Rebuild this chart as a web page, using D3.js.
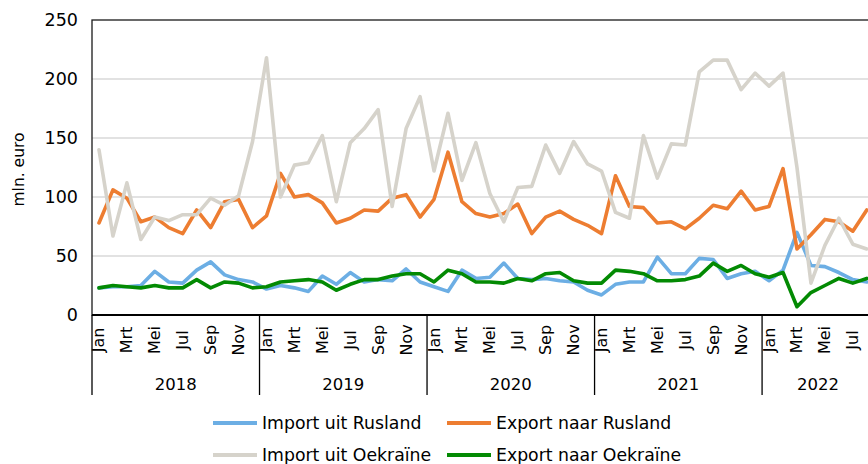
<!DOCTYPE html>
<html>
<head>
<meta charset="utf-8">
<script src="https://cdn.jsdelivr.net/npm/d3@7"></script>
<style>
  html, body { margin: 0; padding: 0; background: #fff; }
  svg { display: block; font-family: "DejaVu Sans", Verdana, sans-serif; }
</style>
</head>
<body>
<svg id="chart" width="868" height="464"></svg>
<script>
// Monthly trade with Russia and Ukraine, Jan 2018 – Aug 2022 (mln. euro)
const years = ["2018", "2019", "2020", "2021", "2022"];
const monthsPerYear = [12, 12, 12, 12, 8];
const monthNames = ["Jan", "Feb", "Mrt", "Apr", "Mei", "Jun", "Jul", "Aug", "Sep", "Okt", "Nov", "Dec"];
const yTicks = [0, 50, 100, 150, 200, 250];

const importRusland = [
  23, 24, 24, 25, 37, 28, 27, 38, 45, 34, 30, 28,
  22, 25, 23, 20, 33, 26, 36, 28, 30, 29, 39, 28,
  24, 20, 38, 31, 32, 44, 31, 30, 31, 29, 28, 21,
  17, 26, 28, 28, 49, 35, 35, 48, 47, 31, 35, 37,
  29, 38, 70, 42, 41, 36, 30, 28
];
const exportRusland = [
  78, 106, 99, 79, 83, 74, 69, 89, 74, 96, 98, 74,
  84, 120, 100, 102, 95, 78, 82, 89, 88, 99, 102, 83,
  98, 138, 96, 86, 83, 86, 94, 69, 83, 88, 81, 76,
  69, 118, 92, 91, 78, 79, 73, 82, 93, 90, 105, 89,
  92, 124, 56, 68, 81, 79, 71, 89
];
const importOekraine = [
  140, 67, 112, 64, 83, 80, 85, 85, 99, 93, 101, 147,
  218, 100, 127, 129, 152, 96, 146, 158, 174, 92, 158, 185,
  122, 171, 114, 146, 103, 79, 108, 109, 144, 120, 147, 128,
  122, 87, 82, 152, 116, 145, 144, 206, 216, 216, 191, 205,
  194, 205, 125, 27, 59, 82, 60, 56
];
const exportOekraine = [
  23, 25, 24, 23, 25, 23, 23, 30, 23, 28, 27, 23,
  24, 28, 29, 30, 28, 21, 26, 30, 30, 33, 35, 35,
  28, 38, 35, 28, 28, 27, 31, 29, 35, 36, 29, 27,
  27, 38, 37, 35, 29, 29, 30, 33, 44, 37, 42, 35,
  32, 36, 7, 19, 25, 31, 27, 31
];

const seriesNames = ["Import uit Rusland", "Export naar Rusland", "Import uit Oekraïne", "Export naar Oekraïne"];
const seriesColors = ["#6caee4", "#ed7d31", "#d6d3cb", "#038a03"];
const seriesValues = [importRusland, exportRusland, importOekraine, exportOekraine];

// month keys, one per data point
const months = [];
years.forEach((yr, yi) => {
  for (let m = 0; m < monthsPerYear[yi]; m++) months.push({ key: yr + "-" + m, year: yr, m });
});

const svg = d3.select("#chart");
const plotLeft = 92, plotTop = 20, plotBottom = 315;
const monthStep = 13.96;
const plotRight = plotLeft + monthStep * months.length;

const x = d3.scaleBand().domain(months.map(d => d.key)).range([plotLeft, plotRight]).paddingInner(0).paddingOuter(0);
const y = d3.scaleLinear().domain([0, 250]).range([plotBottom, plotTop]);
const cx = k => x(k) + x.bandwidth() / 2;

// horizontal gridlines
svg.append("g")
  .selectAll("line")
  .data(yTicks.filter(t => t > 0 && t < 250))
  .join("line")
  .attr("x1", plotLeft).attr("x2", plotRight)
  .attr("y1", d => y(d)).attr("y2", d => y(d))
  .attr("stroke", "#d9d9d9").attr("stroke-width", 1.5);

// plot border
svg.append("rect")
  .attr("x", plotLeft).attr("y", y(250))
  .attr("width", plotRight - plotLeft).attr("height", y(0) - y(250))
  .attr("fill", "none").attr("stroke", "#1a1a1a").attr("stroke-width", 1.3);

// y axis tick labels
const yAxis = d3.axisLeft(y).tickValues(yTicks).tickSize(0).tickPadding(14);
const gy = svg.append("g").attr("transform", `translate(${plotLeft},0)`).call(yAxis);
gy.select(".domain").remove();
gy.selectAll("text").attr("font-size", 17.5).attr("fill", "#000").attr("font-family", "DejaVu Sans, Verdana, sans-serif");

// y axis title
svg.append("text")
  .attr("transform", `translate(19,${(plotTop + plotBottom) / 2 + 2}) rotate(-90)`)
  .attr("text-anchor", "middle")
  .attr("dominant-baseline", "central")
  .attr("font-size", 15.5)
  .text("mln. euro");

// series lines
const line = d3.line()
  .x((d, i) => cx(months[i].key))
  .y(d => y(d));

svg.append("g")
  .selectAll("path")
  .data(seriesValues)
  .join("path")
  .attr("d", d => line(d))
  .attr("fill", "none")
  .attr("stroke", (d, i) => seriesColors[i])
  .attr("stroke-width", 3.6)
  .attr("stroke-linejoin", "round")
  .attr("stroke-linecap", "round");

// x axis baseline
svg.append("line")
  .attr("x1", plotLeft).attr("x2", plotRight)
  .attr("y1", y(0)).attr("y2", y(0))
  .attr("stroke", "#000").attr("stroke-width", 2);

// month labels (every second month)
svg.append("g")
  .selectAll("text")
  .data(months.filter(d => d.m % 2 === 0))
  .join("text")
  .attr("transform", d => `translate(${cx(d.key)},340) rotate(-90)`)
  .attr("text-anchor", "middle")
  .attr("dominant-baseline", "central")
  .attr("font-size", 16)
  .text(d => monthNames[d.m]);

// year separators and labels
let start = 0;
const yearSpans = years.map((yr, yi) => {
  const span = { year: yr, x0: x(months[start].key), x1: x(months[start].key) + monthsPerYear[yi] * x.step() };
  start += monthsPerYear[yi];
  return span;
});

svg.append("g")
  .selectAll("line")
  .data(yearSpans)
  .join("line")
  .attr("x1", d => d.x0).attr("x2", d => d.x0)
  .attr("y1", y(0)).attr("y2", 395)
  .attr("stroke", "#000").attr("stroke-width", 1.3);

svg.append("g")
  .selectAll("text")
  .data(yearSpans)
  .join("text")
  .attr("x", d => (d.x0 + d.x1) / 2)
  .attr("y", 384)
  .attr("text-anchor", "middle")
  .attr("dominant-baseline", "central")
  .attr("font-size", 16.5)
  .text(d => d.year);

// legend, two rows of two entries
const legendCols = [213, 447];
const legendRows = [423, 455];
const legend = svg.append("g")
  .selectAll("g")
  .data(seriesNames)
  .join("g")
  .attr("transform", (d, i) => `translate(${legendCols[i % 2]},${legendRows[Math.floor(i / 2)]})`);

legend.append("line")
  .attr("x1", 0).attr("x2", 44).attr("y1", 0).attr("y2", 0)
  .attr("stroke", (d, i) => seriesColors[i])
  .attr("stroke-width", 4);

legend.append("text")
  .attr("x", 49).attr("y", 0)
  .attr("dominant-baseline", "central")
  .attr("font-size", 17.3)
  .text(d => d);
</script>
</body>
</html>
